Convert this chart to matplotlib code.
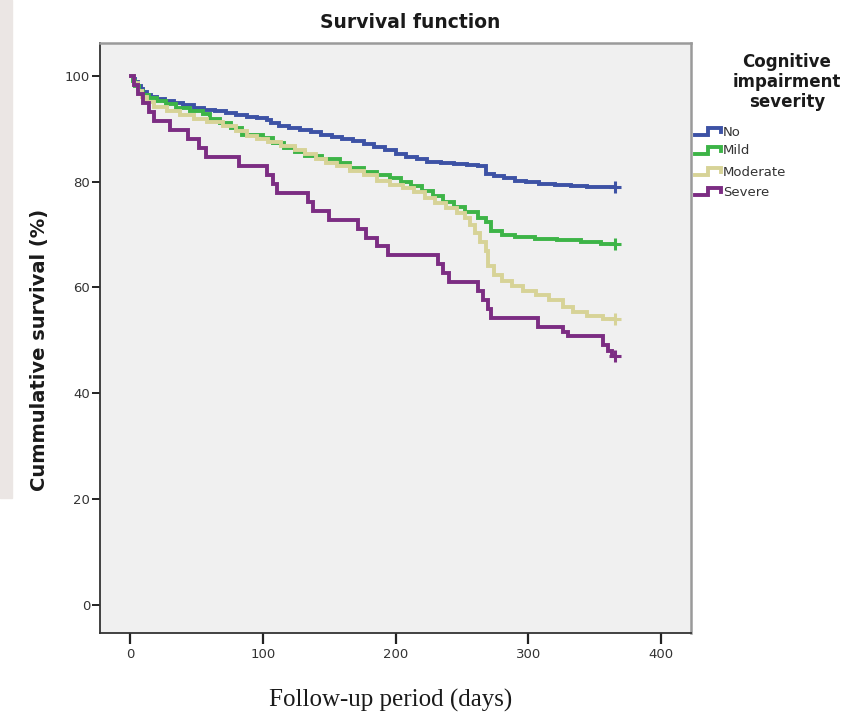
import matplotlib.pyplot as plt
from matplotlib.lines import Line2D
from matplotlib.patches import Rectangle


FOLLOW_UP_END = 365 # last day of follow-up, censored there

groups = ['No', 'Mild', 'Moderate', 'Severe']

# Kaplan-Meier step points (day, cumulative survival %)
no_days = [1, 2, 4, 6, 8, 10, 13, 16, 20, 26, 33, 40, 48, 56, 64, 72, 80, 88, 96,
           103, 106, 112, 120, 128, 136, 144, 152, 160, 168, 176, 184, 192, 200,
           208, 216, 224, 234, 244, 254, 262, 268, 274, 282, 290, 298, 308, 320,
           332, 344, 356]
no_surv = [100, 99.4, 98.8, 98.1, 97.5, 96.9, 96.4, 96.0, 95.6, 95.2, 94.8, 94.4,
           94.0, 93.6, 93.3, 92.9, 92.6, 92.3, 92.0, 91.6, 91.0, 90.6, 90.2, 89.8,
           89.3, 88.9, 88.5, 88.1, 87.6, 87.1, 86.6, 86.0, 85.3, 84.7, 84.2, 83.8,
           83.5, 83.3, 83.1, 82.9, 81.5, 81.0, 80.6, 80.2, 79.9, 79.6, 79.4, 79.2,
           79.0, 78.9]

mild_days = [1, 2, 4, 7, 10, 14, 20, 27, 35, 45, 55, 60, 68, 76, 84, 100, 108, 116,
             124, 132, 145, 158, 166, 176, 186, 196, 204, 212, 220, 228, 236, 244,
             252, 262, 268, 272, 280, 290, 305, 322, 340, 355]
mild_surv = [100, 99.0, 98.0, 97.1, 96.4, 95.8, 95.2, 94.6, 94.0, 93.4, 92.8, 91.8,
             91.0, 90.2, 88.9, 88.3, 87.3, 86.4, 85.6, 84.8, 84.2, 83.5, 82.6, 81.8,
             81.2, 80.6, 79.9, 79.2, 78.2, 77.2, 76.2, 75.2, 74.2, 73.2, 72.4, 70.6,
             69.9, 69.5, 69.2, 68.9, 68.5, 68.2]

moderate_days = [1, 3, 6, 9, 13, 18, 28, 38, 48, 58, 70, 80, 88, 96, 104, 114, 124,
                 132, 140, 148, 156, 166, 176, 186, 196, 206, 214, 222, 230, 238,
                 246, 252, 256, 260, 264, 268, 270, 274, 280, 288, 296, 306, 316,
                 326, 334, 344, 356]
moderate_surv = [100, 98.6, 97.2, 96.0, 95.0, 94.1, 93.3, 92.5, 91.8, 91.2, 90.5,
                 89.6, 88.7, 88.0, 87.5, 86.7, 86.0, 85.2, 84.3, 83.6, 82.9, 82.1,
                 81.2, 80.2, 79.4, 78.8, 78.0, 77.0, 76.0, 75.0, 74.0, 73.2, 71.8,
                 70.2, 68.6, 66.8, 64.0, 62.4, 61.2, 60.2, 59.4, 58.6, 57.6, 56.4,
                 55.4, 54.6, 54.0]

severe_days = [1, 3, 6, 10, 14, 18, 30, 44, 52, 57, 82, 103, 108, 111, 134, 138,
               150, 172, 178, 186, 194, 232, 236, 240, 262, 266, 270, 272, 307, 326,
               330, 356, 360, 363]
severe_surv = [100, 98.3, 96.6, 94.9, 93.2, 91.5, 89.8, 88.1, 86.4, 84.7, 83.0,
               81.3, 79.6, 77.9, 76.2, 74.5, 72.8, 71.1, 69.4, 67.8, 66.1, 64.4,
               62.7, 61.0, 59.3, 57.6, 55.9, 54.2, 52.5, 51.6, 50.8, 49.1, 47.9,
               47.0]

curves = [(no_days, no_surv), (mild_days, mild_surv),
          (moderate_days, moderate_surv), (severe_days, severe_surv)]
colors = ['#3d52a5', '#3db447', '#d7d397', '#7c2d83']

x_ticks = [0, 100, 200, 300, 400]
y_ticks = [0, 20, 40, 60, 80, 100]


fig = plt.figure(figsize=(8.42, 7.15), dpi=100)
fig.patch.set_facecolor('white')

# faint strip left over from the page edge
fig.patches.append(Rectangle((0, 1 - 498 / 715), 12 / 842, 498 / 715,
                             transform=fig.transFigure, color='#ebe6e4', zorder=0))

ax = fig.add_axes([100 / 842, 1 - 633 / 715, 591 / 842, 590 / 715])
ax.set_facecolor('#f0f0f0')

for (days, surv), color in zip(curves, colors):
    t = days + [FOLLOW_UP_END]
    s = surv + [surv[-1]]
    ax.step(t, s, where='post', color=color, lw=2.8, solid_joinstyle='miter')
    ax.plot(FOLLOW_UP_END, surv[-1], marker='+', ms=9, mew=2.2, color=color)

ax.set_xlim(-22.6, 422.6)
ax.set_ylim(-5.3, 106.2)
ax.set_xticks(x_ticks)
ax.set_yticks(y_ticks)

tick_font = {'family': 'DejaVu Sans', 'size': 9.5}
ax.set_xticklabels([str(v) for v in x_ticks], fontdict=tick_font, color='#333333')
ax.set_yticklabels([str(v) for v in y_ticks], fontdict=tick_font, color='#333333')
ax.tick_params(axis='x', length=8, width=1.6, pad=3, color='#222222')
ax.tick_params(axis='y', length=6, width=1.4, pad=1, color='#222222')

for side in ['left', 'bottom']:
    ax.spines[side].set_color('#333333')
    ax.spines[side].set_linewidth(1.3)
for side in ['top', 'right']:
    ax.spines[side].set_color('#9a9a9a')
    ax.spines[side].set_linewidth(1.8)

fig.text(410 / 842, 1 - 22 / 715, 'Survival function', ha='center', va='center',
         family='DejaVu Sans', weight='bold', size=13.5, color='#1a1a1a')
fig.text(40 / 842, 1 - 350 / 715, 'Cummulative survival (%)', rotation=90,
         ha='center', va='center', family='DejaVu Sans', weight='bold',
         size=14, color='#1a1a1a')
fig.text(391 / 842, 1 - 700 / 715, 'Follow-up period (days)', ha='center',
         va='center', family='Liberation Serif', size=18, color='#1a1a1a')

# legend, drawn by hand with step shaped keys
fig.text(787 / 842, 1 - 82 / 715, 'Cognitive\nimpairment\nseverity', ha='center',
         va='center', family='DejaVu Sans', weight='bold', size=12,
         linespacing=1.12, color='#1a1a1a')

entry_y = [132, 151, 172, 192]
for name, color, y in zip(groups, colors, entry_y):
    xs = [695, 708, 708, 721, 721]
    ys = [y + 3, y + 3, y - 4, y - 4, y]
    fig.lines.append(Line2D([v / 842 for v in xs], [1 - v / 715 for v in ys],
                            transform=fig.transFigure, color=color, lw=2.8,
                            solid_joinstyle='miter'))
    fig.text(723 / 842, 1 - y / 715, name, ha='left', va='center',
             family='DejaVu Sans', size=9.5, color='#333333')

fig.savefig('out.png', dpi=100)
